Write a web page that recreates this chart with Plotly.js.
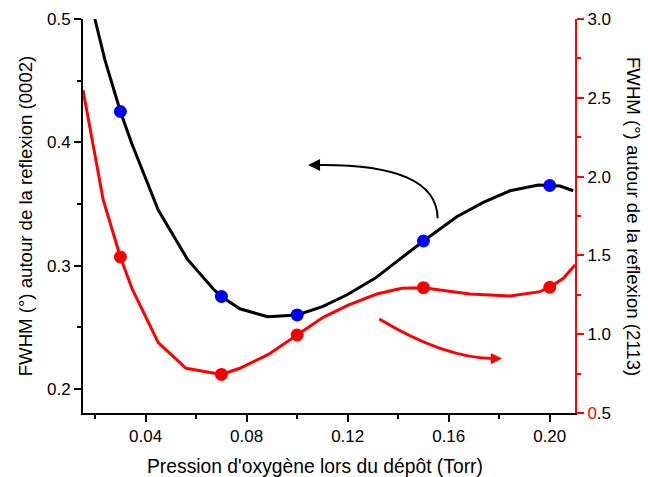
<!DOCTYPE html>
<html>
<head>
<meta charset="utf-8">
<script src="https://cdn.plot.ly/plotly-3.0.1.min.js"></script>
<style>html,body{margin:0;padding:0;background:#fff;}#chart{width:648px;height:477px;}</style>
</head>
<body>
<div id="chart"></div>
<script>
// Curve (0002) – left axis
const curve0002X = [0.0199,0.0239,0.030,0.0345,0.045,0.0566,0.0668,0.070,0.0773,0.0883,0.100,0.110,0.1196,0.1308,0.150,0.1632,0.1737,0.1843,0.1955,0.200,0.2041,0.2093];
const curve0002Y = [0.500,0.4667,0.425,0.399,0.345,0.305,0.281,0.275,0.265,0.2586,0.260,0.2667,0.2762,0.2897,0.320,0.3397,0.3513,0.3607,0.3654,0.365,0.3646,0.3607];
// Measured points (0002)
const pts0002X = [0.03,0.07,0.10,0.15,0.20];
const pts0002Y = [0.425,0.275,0.26,0.32,0.365];
// Curve (2113) – right axis
const curve2113X = [0.0152,0.0232,0.030,0.0347,0.045,0.056,0.070,0.0773,0.0886,0.100,0.1103,0.1202,0.1315,0.1414,0.150,0.1684,0.1843,0.1961,0.200,0.2054,0.2093,0.2100];
const curve2113Y = [2.549,1.852,1.490,1.285,0.946,0.784,0.745,0.784,0.872,0.995,1.107,1.185,1.255,1.291,1.295,1.255,1.242,1.270,1.298,1.355,1.428,1.44];
// Measured points (2113)
const pts2113X = [0.03,0.07,0.10,0.15,0.20];
const pts2113Y = [1.49,0.745,0.995,1.295,1.298];

const xTitle = "Pression d'oxygène lors du dépôt (Torr)";
const yLeftTitle = "FWHM (°) autour de la reflexion (0002)";
const yRightTitle = "FWHM (°) autour de la reflexion (2113)";
const rightTickVals = [0.5,1.0,1.5,2.0,2.5,3.0];
const rightTickText = ['<span style="color:red">0</span>.5','1.0','1.5','2.0','2.5','3.0'];

const FONT = 'Liberation Sans, Arial, sans-serif';

const traces = [
  {x: curve0002X, y: curve0002Y, type:'scatter', mode:'lines', line:{color:'#000', width:3}, xaxis:'x', yaxis:'y', hoverinfo:'skip'},
  {x: pts0002X, y: pts0002Y, type:'scatter', mode:'markers', marker:{color:'#0000FF', size:13}, xaxis:'x', yaxis:'y'},
  {x: curve2113X, y: curve2113Y, type:'scatter', mode:'lines', line:{color:'#FF0000', width:3}, xaxis:'x', yaxis:'y2', hoverinfo:'skip'},
  {x: pts2113X, y: pts2113Y, type:'scatter', mode:'markers', marker:{color:'#FF0000', size:13, gradient:{type:'radial', color:'#E00000'}}, xaxis:'x', yaxis:'y2'}
];

const layout = {
  width:648, height:477,
  margin:{l:83, r:73, t:19, b:64},
  paper_bgcolor:'#fff', plot_bgcolor:'#fff',
  showlegend:false,
  font:{family:FONT, size:17, color:'#000'},
  xaxis:{
    range:[0.0152,0.21], showgrid:false, zeroline:false,
    showline:true, linecolor:'#000', linewidth:2,
    ticks:'outside', ticklen:7, tickwidth:2, tickcolor:'#000',
    tickmode:'linear', tick0:0.04, dtick:0.04, tickformat:'.2f',
    minor:{dtick:0.02, tick0:0, ticklen:4, tickwidth:2, tickcolor:'#000', showgrid:false},
    tickfont:{size:17}
  },
  xaxis2:{
    range:[0.0152,0.21], overlaying:'x', side:'top', anchor:'y',
    showgrid:false, zeroline:false, showline:true, linecolor:'#000', linewidth:2,
    ticks:'inside', ticklen:6, tickwidth:2, tickcolor:'#000',
    tickmode:'linear', tick0:0, dtick:0.02, showticklabels:false
  },
  yaxis:{
    range:[0.1805,0.5], showgrid:false, zeroline:false,
    showline:true, linecolor:'#000', linewidth:2,
    ticks:'outside', ticklen:7, tickwidth:2, tickcolor:'#000',
    tickmode:'linear', tick0:0.2, dtick:0.1, tickformat:'.1f',
    minor:{dtick:0.05, tick0:0, ticklen:4, tickwidth:2, tickcolor:'#000', showgrid:false},
    tickfont:{size:17},
    title:{text:yLeftTitle, font:{size:18.6}, standoff:9}
  },
  yaxis2:{
    range:[0.5,3.0], overlaying:'y', side:'right', anchor:'x',
    showgrid:false, zeroline:false,
    showline:true, linecolor:'#FF0000', linewidth:2,
    ticks:'outside', ticklen:7, tickwidth:2, tickcolor:'#FF0000',
    tickmode:'array', tickvals:rightTickVals, ticktext:rightTickText,
    minor:{dtick:0.25, tick0:0, ticklen:4, tickwidth:2, tickcolor:'#FF0000', showgrid:false},
    tickfont:{size:17, color:'#000'}
  },
  shapes:[
    {type:'path', xref:'x', yref:'y', path:'M 0.1556 0.3384 Q 0.15537 0.3832 0.1070 0.3816', line:{color:'#000', width:2}},
    {type:'path', xref:'x', yref:'y2', path:'M 0.1325 1.0964 Q 0.1585 0.8458 0.1780 0.8458', line:{color:'#FF0000', width:3}}
  ],
  annotations:[
    {xref:'x', yref:'y', x:0.1043, y:0.3816, ax:0.1075, ay:0.3816, axref:'x', ayref:'y', text:'', showarrow:true, arrowhead:2, arrowsize:1.2, arrowwidth:2, arrowcolor:'#000'},
    {xref:'x', yref:'y2', x:0.1811, y:0.8458, ax:0.1775, ay:0.8458, axref:'x', ayref:'y2', text:'', showarrow:true, arrowhead:2, arrowsize:0.75, arrowwidth:3, arrowcolor:'#FF0000'},
    {xref:'paper', yref:'paper', x:0.5, y:0, xanchor:'center', yanchor:'middle', xshift:-14, yshift:-53, text:xTitle, showarrow:false, font:{size:19.3, color:'#000'}},
    {xref:'paper', yref:'paper', x:1, y:0.5, xanchor:'center', yanchor:'middle', xshift:59, text:yRightTitle, textangle:90, showarrow:false, font:{size:18.6, color:'#000'}}
  ]
};

Plotly.newPlot('chart', traces, layout, {displayModeBar:false, staticPlot:true});
</script>
</body>
</html>
